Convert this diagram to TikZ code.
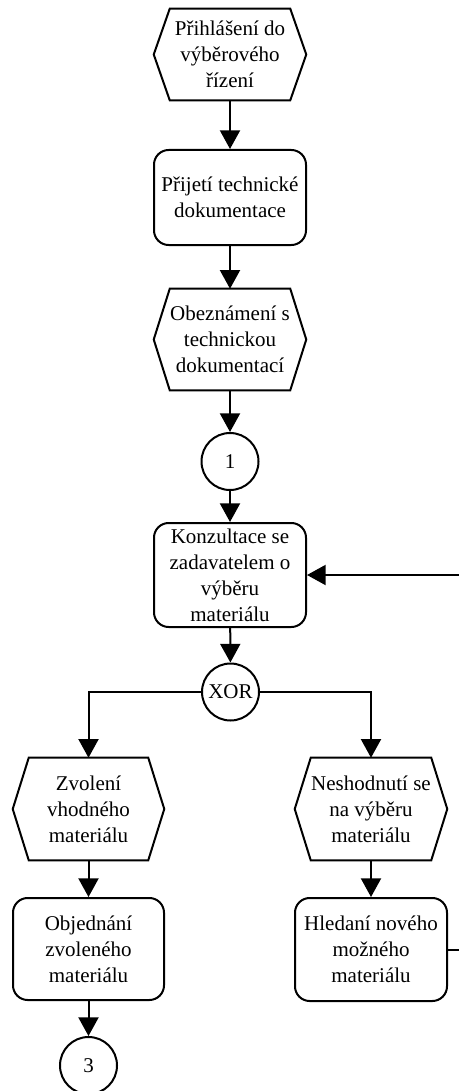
\documentclass[tikz,border=0pt]{standalone}
\usepackage{fontspec}
\setmainfont{Liberation Serif}
\usetikzlibrary{arrows.meta}
\tikzset{>={Triangle[width=15pt,length=14pt]}}
\tikzset{
  krok/.style={draw, line width=1.5pt, rounded corners=11pt, minimum width=114pt, align=center, inner sep=0pt},
  udalost/.style={minimum width=114pt, align=center, inner sep=0pt},
  spojka/.style={draw, circle, line width=1.5pt, minimum size=42.75pt, inner sep=0pt},
  tok/.style={->, line width=1.5pt},
}

\begin{document}
\begin{tikzpicture}[x=0.75pt, y=-0.75pt]

  \fontsize{15.75pt}{19.5pt}\selectfont
  \useasboundingbox (0,0) rectangle (458,1091);

  %% hlavni vetev
  \node[udalost, minimum height=68.25pt] (h1) at (230,54.5) {Přihlášení do\\výběrového\\řízení};
  \node[krok, minimum height=71.25pt] (b2) at (230,197.5) {Přijetí technické\\dokumentace};
  \node[udalost, minimum height=75.75pt] (h3) at (230,339.5) {Obeznámení s\\technickou\\dokumentací};
  \node[spojka] (c1) at (230,461.5) {1};
  \node[krok, minimum height=78pt] (b4) at (230,575) {Konzultace se\\zadavatelem o\\výběru\\materiálu};
  \node[spojka] (xor) at (230.5,692) {XOR};

  %% leva vetev
  \node[udalost, minimum height=76.5pt, minimum width=113.25pt] (h5) at (88.5,809) {Zvolení\\vhodného\\materiálu};
  \node[krok, minimum height=76.5pt, minimum width=113.25pt] (b6) at (88.5,949) {Objednání\\zvoleného\\materiálu};
  \node[spojka] (c3) at (88.5,1065.5) {3};

  %% prava vetev
  \node[udalost, minimum height=76.5pt] (h7) at (371,809) {Neshodnutí se\\na výběru\\materiálu};
  \node[krok, minimum height=77.25pt] (b8) at (371,949.5) {Hledaní nového\\možného\\materiálu};

  \coordinate (ret) at (480,0);

  % sestiuhelniky
  \foreach \n in {h1,h3,h5,h7}
    \draw[line width=1.5pt] (\n.west) -- ([xshift=12pt]\n.north west) -- ([xshift=-12pt]\n.north east)
      -- (\n.east) -- ([xshift=-12pt]\n.south east) -- ([xshift=12pt]\n.south west) -- cycle;

  \draw[tok] (h1) -- (b2);
  \draw[tok] (b2) -- (h3);
  \draw[tok] (h3) -- (c1);
  \draw[tok] (c1) -- (b4);
  \draw[tok] (b4) -- (xor);

  \draw[tok] (xor.west) -| (h5.north); %% XOR -> vlevo
  \draw[tok] (xor.east) -| (h7.north); %% XOR -> vpravo

  \draw[tok] (h5) -- (b6);
  \draw[tok] (b6) -- (c3);
  \draw[tok] (h7) -- (b8);

  \draw[tok] (b8.east) -- (b8.east -| ret) -- (b4.east -| ret) -- (b4.east); %% zpet na konzultaci

\end{tikzpicture}
\end{document}
